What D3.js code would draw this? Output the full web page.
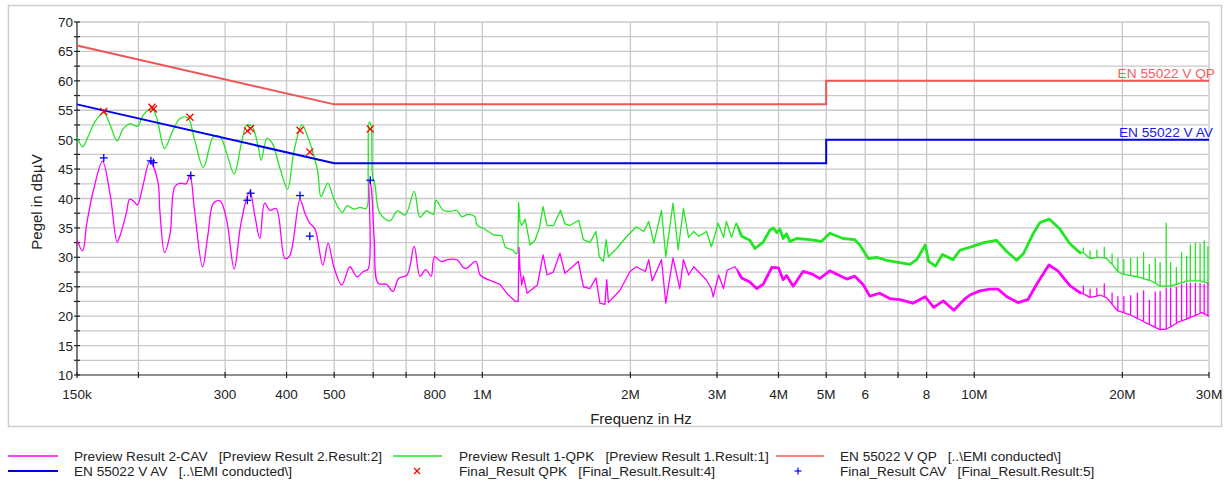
<!DOCTYPE html>
<html><head><meta charset="utf-8">
<script src="https://cdn.jsdelivr.net/npm/d3@7"></script>
<style>
body{margin:0;background:#fff;}
text{font-family:"Liberation Sans",Arial,sans-serif;fill:#222;}
</style></head>
<body><svg id="c" width="1228" height="482"></svg>
<script>
// ---------- DATA (frequency in kHz, level in dBµV) ----------
const xTickValues = [150,200,300,400,500,600,700,800,1000,2000,3000,4000,5000,6000,7000,8000,10000,20000,30000];
const xTickLabels = {150:"150k",300:"300",400:"400",500:"500",800:"800",1000:"1M",2000:"2M",3000:"3M",4000:"4M",5000:"5M",6000:"6",8000:"8",10000:"10M",20000:"20M",30000:"30M"};
const yTickValues = [10,12.5,15,17.5,20,22.5,25,27.5,30,32.5,35,37.5,40,42.5,45,47.5,50,52.5,55,57.5,60,62.5,65,67.5,70];
const yLabelValues = [10,15,20,25,30,35,40,45,50,55,60,65,70];

const limitQP = [[150,66],[500,56],[5000,56],[5000,60],[30000,60]];
const limitAV = [[150,56],[500,46],[5000,46],[5000,50],[30000,50]];

const previewQPK = [[150,50.5],[154,48.8],[158,50.5],[163,53],[170,54.6],[175,52.6],[181,49.8],[186,51.8],[192,52.7],[199,52.3],[205,54.3],[213,55.3],[218,53.6],[226,48.5],[234,51.2],[243,53.6],[252,53.7],[260,50],[271,45.3],[284,50.5],[293,50.5],[302,47.8],[313,44.2],[324,49.5],[332,52.5],[340,52.3],[350,49],[355,46.5],[365,50.2],[374,49.4],[388,45.1],[402,41.6],[414,48],[430,52.5],[442,50.4],[453,47.7],[463,44.5],[470,40.3],[485,42.6],[499,40],[519,37.6],[531,38.8],[548,38.2],[564,38.5],[581,38.3],[586,45],[589,53],[594,52.5],[598,44],[605,42.3],[619,37.5],[649,36.2],[672,37.9],[697,37.2],[727,41.2],[747,36.8],[770,37.9],[795,37.3],[805,39.7],[833,38],[860,37.8],[887,38],[908,36.9],[935,37.3],[966,36.9],[975,35.5],[1006,34.9],[1055,33.8],[1095,33.7],[1113,31.7],[1155,31.2],[1170,30.6],[1181,30.8],[1185,39.3],[1193,36],[1203,35.4],[1222,36.5],[1250,32.1],[1280,32.9],[1306,35],[1329,38.6],[1354,35.4],[1396,35.4],[1442,38],[1472,35.7],[1507,35.4],[1570,36.3],[1605,33],[1655,32.5],[1702,34.4],[1729,30.1],[1763,29.3],[1785,33],[1804,30.1],[1875,31.5],[1963,33.5],[2056,35.2],[2128,34.4],[2179,36.1],[2232,32.4],[2313,38],[2360,30.1],[2441,39.2],[2501,31.3],[2563,38.3],[2626,33.4],[2690,34.4],[2755,33.6],[2856,34.4],[2921,31.8],[2966,33.6],[3016,35.8],[3092,33.4],[3135,36.1],[3210,33.4],[3280,35.8],[3366,33.6],[3498,32.9],[3582,31.5],[3723,32.6],[3841,34.6],[3904,35],[3969,34.2],[4025,34.8],[4088,33.2],[4153,34],[4218,32.7],[4352,33.2],[4631,33],[4889,32.7],[5085,34.1],[5413,33.2],[5717,33],[5852,32.1],[6087,29.8],[6337,30],[6631,29.5],[6952,29.2],[7400,28.8],[7637,29.6],[7950,32.1],[8080,29.3],[8340,28.5],[8618,30.5],[9050,29.6],[9349,31.2],[9962,31.9],[10450,32.5],[11090,32.9],[11640,31],[12200,29.5],[12580,30.6],[13190,34.1],[13595,35.9],[14200,36.5],[14931,34.8],[15645,32.3],[16393,30.8],[17177,29.8],[18003,30],[18570,29.8],[19490,27.8],[20100,27.1],[21370,26.7],[22745,26.1],[23832,25.1],[24971,25.1],[26740,25.8],[28290,26],[30000,25.6]];

const previewCAV = [[150,33],[154,31.1],[157,35.7],[162,41.4],[169,46.3],[175,40.9],[181,32.6],[183,33.4],[189,37.5],[192,39.9],[196,39.5],[199,38.9],[204,42],[211,46.3],[219,42.9],[221,38],[226,30.8],[232,34.1],[237,42],[243,42.6],[250,42.5],[254.5,44],[260,38],[270,28.4],[277,34],[284,39.2],[293,39.6],[302,36.5],[313,28],[322,35],[331,39.7],[337,41.2],[345,37],[353,33.2],[361,39.2],[370,38],[381,38.3],[397,29.8],[406,30.3],[426,39.8],[436,37.5],[446,35.8],[457,34.8],[474,28.7],[486,32.4],[499,28.4],[518,25.3],[538,28.4],[556,26.7],[573,27.6],[586,28],[589,43],[594,42],[603,33],[614,25.6],[639,25.4],[658,24.2],[676,26.4],[703,27],[727,31.9],[747,26.8],[767,27.9],[787,26.8],[799,30.1],[825,29.3],[852,29.6],[887,29.6],[923,28.1],[970,29.3],[990,27],[1037,26.1],[1086,25.4],[1121,23.9],[1167,22.5],[1183,22.5],[1187,31.7],[1193,28],[1203,25.3],[1212,26.8],[1233,23.9],[1294,25.3],[1329,30.4],[1354,27],[1394,27.5],[1438,30.7],[1472,27.3],[1567,29.3],[1605,25],[1655,24.7],[1702,26.5],[1734,22.2],[1775,22],[1790,26.2],[1804,22.3],[1905,24.4],[1996,27.6],[2056,28.4],[2145,27.6],[2179,29.6],[2215,26],[2313,29.6],[2360,22.2],[2441,29.9],[2520,24.7],[2563,29.6],[2626,27],[2690,28.4],[2755,27.5],[2856,26.1],[2921,24.7],[2946,23.3],[3022,27],[3092,24.7],[3144,27.8],[3262,28.4],[3366,26.5],[3498,25.8],[3610,24.7],[3723,25.4],[3877,28.3],[4000,28.2],[4088,26.2],[4153,26.9],[4285,25.1],[4486,27.6],[4670,27.2],[4853,26.4],[5085,27.7],[5506,26.3],[5717,26.8],[5940,25.4],[6132,23.4],[6425,23.9],[6732,23],[7062,22.8],[7500,22.2],[7950,23.3],[8270,21.5],[8650,22.6],[9090,21],[9530,22.8],[9797,23.6],[10268,24.3],[10760,24.6],[11170,24.6],[11650,23.3],[12270,22.3],[12850,22.8],[13410,25.5],[14180,28.7],[14790,27.7],[15645,25.2],[16393,24],[17177,23.2],[18003,23.6],[18600,23.1],[19500,21],[20420,20.4],[21500,19.6],[22540,18.7],[23832,17.7],[24700,17.9],[25920,19],[27690,19.9],[29040,20.6],[30000,20]];

// harmonic spikes above ~16 MHz
const spikeFreqs = [16657,17193,17749,18377,19060,19585,20139,20789,21461,22087,22695,23327,23865,24557,25066,25755,26382,27018,27487,28153,28775,29333,29847];
const qpkSpikeBase = [30.8,29.8,30.0,29.9,28.8,27.6,27.1,26.9,26.7,26.4,26.1,25.6,25.1,25.1,25.1,25.4,25.7,25.9,26.0,26.0,26.0,25.8,25.6];
const qpkSpikePeak = [31.6,31.1,31.2,31.7,30.6,29.8,29.6,29.8,30.0,30.8,28.8,29.8,29.1,35.8,29.1,28.3,30.8,30.2,32.1,32.4,32.3,32.8,31.8];
const cavSpikeBase = [23.8,23.2,23.4,23.3,22.0,20.9,20.6,20.2,19.6,19.1,18.6,18.1,17.7,17.8,18.2,18.8,19.2,19.5,19.8,20.1,20.5,20.4,20.1];
const cavSpikePeak = [25.1,24.6,24.7,25.5,23.9,23.3,23.3,23.5,23.9,24.3,22.7,24.1,24.2,24.8,24.8,24.9,25.4,25.6,25.6,25.6,25.6,25.4,25.6];

// band (kHz) where the measured traces are visibly noisy; smooth part ends at smoothEnd
const noisyBand = [3300, 16500];
const smoothEnd = 1000;

const finalQPK = [[170,54.8],[213,55.5],[214.5,55.2],[254.5,53.8],[333,51.5],[338,51.9],[426,51.6],[446,47.9],[592,51.8]];
const finalCAV = [[170,46.9],[212,46.4],[214.5,46.1],[255.5,43.9],[333,39.7],[338,40.9],[426,40.5],[446,33.6],[592,43.1]];

const legendRows = [
  [{type:"line",color:"#ff00ff",text:"Preview Result 2-CAV   [Preview Result 2.Result:2]"},
   {type:"line",color:"#22e622",text:"Preview Result 1-QPK   [Preview Result 1.Result:1]"},
   {type:"line",color:"#f05555",text:"EN 55022 V QP   [..\\EMI conducted\\]"}],
  [{type:"line",color:"#0000ee",text:"EN 55022 V AV   [..\\EMI conducted\\]"},
   {type:"x",color:"#ff0000",text:"Final_Result QPK   [Final_Result.Result:4]"},
   {type:"plus",color:"#0000ff",text:"Final_Result CAV   [Final_Result.Result:5]"}]
];

// ---------- DRAWING ----------
const svg = d3.select("#c");
const x = d3.scaleLog().domain([150,30000]).range([77,1209]);
const y = d3.scaleLinear().domain([10,70]).range([375,22]);

function withSpikes(base, sb, sp){
  const pts = base.map(d=>[d[0],d[1],0]);
  spikeFreqs.forEach((f,i)=>{ pts.push([f,sb[i],0],[f,sp[i],1],[f,sb[i],2]); });
  pts.sort((a,b)=> a[0]-b[0] || (a[2]-b[2]));
  return pts;
}

// outer frame
svg.append("rect").attr("x",8.5).attr("y",5.5).attr("width",1213).attr("height",421)
  .attr("fill","none").attr("stroke","#cfcfcf").attr("stroke-width",1.5);

// grid
const grid = svg.append("g").attr("stroke","#c8c8c8").attr("stroke-width",1.3);
grid.selectAll(".hg").data(yTickValues.filter(v=>v>10)).join("line")
  .attr("x1",x(150)).attr("x2",x(30000)).attr("y1",d=>y(d)).attr("y2",d=>y(d));
grid.selectAll(".vg").data(xTickValues.filter(v=>v>150)).join("line")
  .attr("x1",d=>x(d)).attr("x2",d=>x(d)).attr("y1",y(10)).attr("y2",y(70));

// axes
const ax = svg.append("g").attr("stroke","#222").attr("stroke-width",1.2);
ax.append("line").attr("x1",x(150)).attr("x2",x(150)).attr("y1",y(10)).attr("y2",y(70));
ax.append("line").attr("x1",x(150)).attr("x2",x(30000)).attr("y1",y(10)).attr("y2",y(10));
ax.selectAll(".yt").data(yTickValues).join("line")
  .attr("x1",x(150)-3).attr("x2",x(150)+3).attr("y1",d=>y(d)).attr("y2",d=>y(d));
ax.selectAll(".xt").data(xTickValues).join("line")
  .attr("x1",d=>x(d)).attr("x2",d=>x(d)).attr("y1",y(10)-3).attr("y2",y(10)+3);

svg.append("g").selectAll("text").data(yLabelValues).join("text")
  .attr("x",73).attr("y",d=>y(d)+5).attr("text-anchor","end").attr("font-size","13.5px").text(d=>d);
svg.append("g").selectAll("text").data(xTickValues.filter(v=>xTickLabels[v])).join("text")
  .attr("x",d=>x(d)).attr("y",399).attr("text-anchor","middle").attr("font-size","13.5px").text(d=>xTickLabels[d]);

svg.append("text").attr("x",641).attr("y",424).attr("text-anchor","middle").attr("font-size","15px").text("Frequenz in Hz");
svg.append("text").attr("transform","translate(42,202) rotate(-90)").attr("text-anchor","middle")
  .attr("font-size","15px").text("Pegel in dBµV");

// traces
const lineSmooth = d3.line().x(d=>x(d[0])).y(d=>y(d[1])).curve(d3.curveCatmullRom.alpha(0.5));
const lineStraight = d3.line().x(d=>x(d[0])).y(d=>y(d[1]));
const plot = svg.append("g");

svg.append("clipPath").attr("id","noisy").append("rect")
  .attr("x",x(noisyBand[0])).attr("width",x(noisyBand[1])-x(noisyBand[0])).attr("y",0).attr("height",482);

function trace(data,color){
  const lowIdx = data.findIndex(d=>d[0]>=smoothEnd);
  const low = data.slice(0,lowIdx+1), high = data.slice(lowIdx);
  plot.append("path").datum(low).attr("d",lineSmooth)
    .attr("fill","none").attr("stroke",color).attr("stroke-width",1.3).attr("stroke-linejoin","round");
  plot.append("path").datum(high).attr("d",lineStraight)
    .attr("fill","none").attr("stroke",color).attr("stroke-width",1.3).attr("stroke-linejoin","round");
  plot.append("path").datum(high).attr("d",lineStraight).attr("clip-path","url(#noisy)")
    .attr("fill","none").attr("stroke",color).attr("stroke-width",2.8).attr("stroke-linejoin","round");
}
trace(withSpikes(previewQPK,qpkSpikeBase,qpkSpikePeak),"#22e622");
trace(withSpikes(previewCAV,cavSpikeBase,cavSpikePeak),"#ff00ff");
plot.append("path").datum(limitQP).attr("d",lineStraight).attr("fill","none").attr("stroke","#f05555").attr("stroke-width",2);
plot.append("path").datum(limitAV).attr("d",lineStraight).attr("fill","none").attr("stroke","#0000ee").attr("stroke-width",2);

// markers
const xm = plot.append("g").attr("stroke","#ff0000").attr("stroke-width",1.3);
finalQPK.forEach(d=>{
  const cx=x(d[0]), cy=y(d[1]);
  xm.append("line").attr("x1",cx-3.5).attr("y1",cy-3.5).attr("x2",cx+3.5).attr("y2",cy+3.5);
  xm.append("line").attr("x1",cx-3.5).attr("y1",cy+3.5).attr("x2",cx+3.5).attr("y2",cy-3.5);
});
const pm = plot.append("g").attr("stroke","#0000ff").attr("stroke-width",1.3);
finalCAV.forEach(d=>{
  const cx=x(d[0]), cy=y(d[1]);
  pm.append("line").attr("x1",cx-4).attr("y1",cy).attr("x2",cx+4).attr("y2",cy);
  pm.append("line").attr("x1",cx).attr("y1",cy-4).attr("x2",cx).attr("y2",cy+4);
});

// limit labels
svg.append("text").attr("x",1215).attr("y",y(60)-3).attr("text-anchor","end").attr("font-size","13.7px")
  .style("fill","#f06060").text("EN 55022 V QP");
svg.append("text").attr("x",1213).attr("y",y(50)-3).attr("text-anchor","end").attr("font-size","13.7px")
  .style("fill","#1a1ae6").text("EN 55022 V AV");

// legend
const colX = [[8,58,74],[393,442,459],[776,824,840]];
const rowY = [456,471];
legendRows.forEach((row,ri)=>{
  row.forEach((it,ci)=>{
    const [l0,l1,tx] = colX[ci]; const cy=rowY[ri];
    const g = svg.append("g");
    if(it.type==="line"){
      g.append("line").attr("x1",l0).attr("x2",l1).attr("y1",cy).attr("y2",cy).attr("stroke",it.color).attr("stroke-width",ci===0&&ri===1?2:1.5);
    } else if(it.type==="x"){
      const cx=(l0+l1)/2-0.5;
      g.append("line").attr("x1",cx-3).attr("y1",cy-3).attr("x2",cx+3).attr("y2",cy+3).attr("stroke",it.color).attr("stroke-width",1.2);
      g.append("line").attr("x1",cx-3).attr("y1",cy+3).attr("x2",cx+3).attr("y2",cy-3).attr("stroke",it.color).attr("stroke-width",1.2);
    } else {
      const cx=(l0+l1)/2-2;
      g.append("line").attr("x1",cx-3.5).attr("y1",cy).attr("x2",cx+3.5).attr("y2",cy).attr("stroke",it.color).attr("stroke-width",1.2);
      g.append("line").attr("x1",cx).attr("y1",cy-3.5).attr("x2",cx).attr("y2",cy+3.5).attr("stroke",it.color).attr("stroke-width",1.2);
    }
    g.append("text").attr("x",tx).attr("y",cy+5).attr("font-size","13.6px").style("white-space","pre").text(it.text);
  });
});
</script></body></html>
